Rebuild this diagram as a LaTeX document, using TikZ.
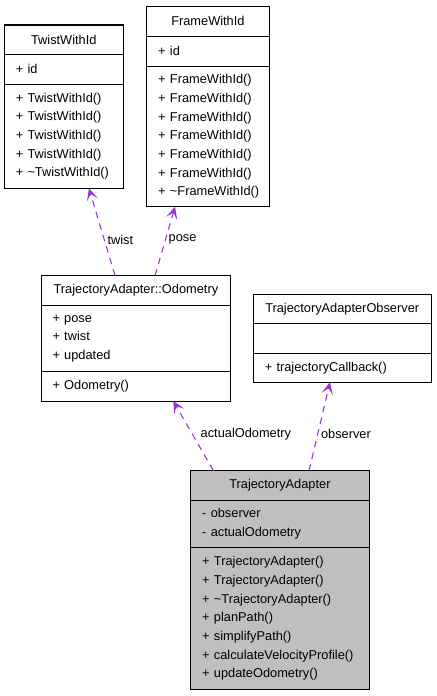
\documentclass[tikz,border=0pt]{standalone}
\usepackage{fontspec}
\setmainfont{Liberation Sans}
\definecolor{usageEdge}{RGB}{154, 50, 205}
\definecolor{focusFill}{RGB}{191, 191, 191}
\usepackage{tikz}
\usetikzlibrary{arrows.meta, positioning}

\newcommand{\umlfont}{\fontsize{9.6}{14}\selectfont}

\begin{document}
\begin{tikzpicture}[
        x=0.75pt, y=-0.75pt,
        title/.style={draw, line width=0.8pt, outer sep=0pt, inner xsep=7pt, inner ysep=2pt, anchor=north, align=center, font=\umlfont, minimum height=22pt},
        part/.style={draw, line width=0.8pt, outer sep=0pt, inner xsep=7pt, inner ysep=2pt, align=left, font=\umlfont},
        usage/.style={draw=usageEdge, line width=0.8pt, dash pattern=on 5pt off 4pt, -{Stealth[length=9pt, width=8.5pt, inset=4.5pt, sep=0pt]}},
        edgelabel/.style={anchor=west, inner sep=2pt, font=\umlfont}
    ]
        \useasboundingbox (0,0) rectangle (436,696);

        % TwistWithId
        \node[title, text width=75.25pt] (twist-title) at (63.8,25) {TwistWithId};
        \node[part, text width=75.25pt, minimum height=22.5pt, below=0pt of twist-title] (twist-attrs) {\,+ id};
        \node[part, text width=75.25pt, minimum height=78pt, below=0pt of twist-attrs] (twist-methods) {\,+ TwistWithId()\\\,+ TwistWithId()\\\,+ TwistWithId()\\\,+ TwistWithId()\\\,+ \textasciitilde TwistWithId()};

        % FrameWithId
        \node[title, text width=77.7pt] (frame-title) at (207.9,6.7) {FrameWithId};
        \node[part, text width=77.7pt, minimum height=22.5pt, below=0pt of frame-title] (frame-attrs) {\,+ id};
        \node[part, text width=77.7pt, minimum height=105.5pt, below=0pt of frame-attrs] (frame-methods) {\,+ FrameWithId()\\\,+ FrameWithId()\\\,+ FrameWithId()\\\,+ FrameWithId()\\\,+ FrameWithId()\\\,+ FrameWithId()\\\,+ \textasciitilde FrameWithId()};

        % TrajectoryAdapter::Odometry
        \node[title, text width=128.3pt] (odo-title) at (135.9,275.7) {TrajectoryAdapter::Odometry};
        \node[part, text width=128.3pt, minimum height=50pt, below=0pt of odo-title] (odo-attrs) {\,+ pose\\\,+ twist\\\,+ updated};
        \node[part, text width=128.3pt, minimum height=22pt, below=0pt of odo-attrs] (odo-methods) {\,+ Odometry()};

        % TrajectoryAdapterObserver
        \node[title, text width=119.3pt] (obs-title) at (342.2,294.3) {TrajectoryAdapterObserver};
        \node[part, text width=119.3pt, minimum height=22.2pt, below=0pt of obs-title] (obs-attrs) {};
        \node[part, text width=119.3pt, minimum height=21.8pt, below=0pt of obs-attrs] (obs-methods) {\,+ trajectoryCallback()};

        % TrajectoryAdapter (the class this graph is about)
        \node[title, fill=focusFill, text width=119.7pt] (adapter-title) at (279.9,470.7) {TrajectoryAdapter};
        \node[part, fill=focusFill, text width=119.7pt, minimum height=35.8pt, below=0pt of adapter-title] (adapter-attrs) {\,- observer\\\,- actualOdometry};
        \node[part, fill=focusFill, text width=119.7pt, minimum height=106pt, below=0pt of adapter-attrs] (adapter-methods) {\,+ TrajectoryAdapter()\\\,+ TrajectoryAdapter()\\\,+ \textasciitilde TrajectoryAdapter()\\\,+ planPath()\\\,+ simplifyPath()\\\,+ calculateVelocityProfile()\\\,+ updateOdometry()};

        % usage edges
        \draw[usage] ([xshift=55.5pt]odo-title.north west) -- ([xshift=63.5pt]twist-methods.south west) node[edgelabel, pos=0.41] {twist};
        \draw[usage] ([xshift=85.5pt]odo-title.north west) -- ([xshift=21.2pt]frame-methods.south west) node[edgelabel, pos=0.52] {pose};
        \draw[usage] ([xshift=17pt]adapter-title.north west) -- ([xshift=99.2pt]odo-methods.south west) node[edgelabel, pos=0.53, xshift=4pt] {actualOdometry};
        \draw[usage] ([xshift=88.7pt]adapter-title.north west) -- ([xshift=57.5pt]obs-methods.south west) node[edgelabel, pos=0.42] {observer};
    \end{tikzpicture}
\end{document}
